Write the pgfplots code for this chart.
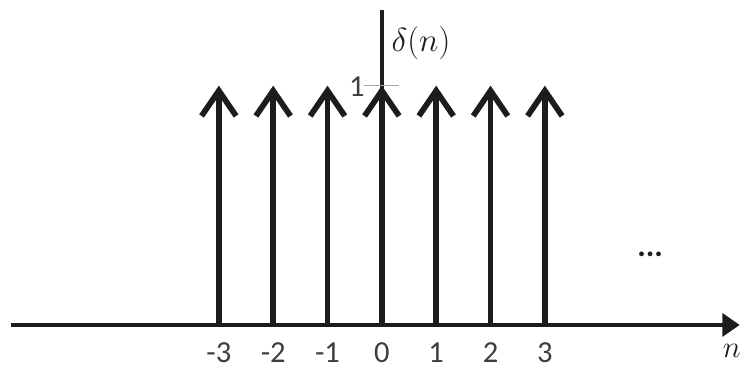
\RequirePackage{fix-cm}
\documentclass[border=0pt]{standalone}
\usepackage{pgfplots}
\usepackage{pgfplotstable}
\pgfplotsset{compat=1.18}
\usepackage{fontspec}
\setmainfont{Carlito}
\usetikzlibrary{arrows.meta}
\definecolor{ink}{HTML}{1C1C1C}
\pgfplotstableread{
x y
-3 1
-2 1
-1 1
0 1
1 1
2 1
3 1
}\deltadata
\begin{document}
\begin{tikzpicture}
\begin{axis}[
  width=556.5pt, height=275.25pt, scale only axis,
  xmin=-7.028, xmax=6.587, ymin=-0.171, ymax=1.358,
  axis lines=none, clip=false,
  xtick=\empty, ytick=\empty,
]
% invisible frame to fix bounding box
\path (axis cs:-7.028,-0.171) rectangle (axis cs:6.587,1.358);
% x axis
\draw[ink, line width=3.4pt, -{Triangle[length=13pt,width=17pt]}] (axis cs:-6.826,0) -- (axis cs:6.587,0);
% vertical axis
\draw[ink, line width=3.2pt] (axis cs:0,0) -- (axis cs:0,1.317);
% tick at 1
\draw[gray!70, line width=1.1pt] (axis cs:-0.33,1) -- (axis cs:0.312,1);
% stems
\addplot[ink, line width=4.3pt,
  quiver={u=0, v=\thisrow{y}},
  -{Straight Barb[length=19pt, width=26pt, line cap=butt]}]
  table[x=x, y expr=0] {\deltadata};
% labels
\pgfplotsinvokeforeach{-3,-2,-1,0,1,2,3}{
  \node[inner sep=0pt, font=\fontsize{23}{27}\selectfont, text=ink!85] at (axis cs:#1,-0.117) {#1};
}
\node[inner sep=0pt, font=\fontsize{23}{27}\selectfont, text=ink!85] at (axis cs:-0.459,0.996) {1};
\node[inner sep=0pt, font=\fontsize{25}{29}\selectfont, text=ink] at (axis cs:0.72,1.179) {$\delta(n)$};
\node[inner sep=0pt, font=\fontsize{24}{28}\selectfont\bfseries, text=ink] at (axis cs:4.936,0.296) {...};
\node[inner sep=0pt, font=\fontsize{23}{27}\selectfont, text=ink] at (axis cs:6.44,-0.11) {$n$};
\end{axis}
\end{tikzpicture}
\end{document}
